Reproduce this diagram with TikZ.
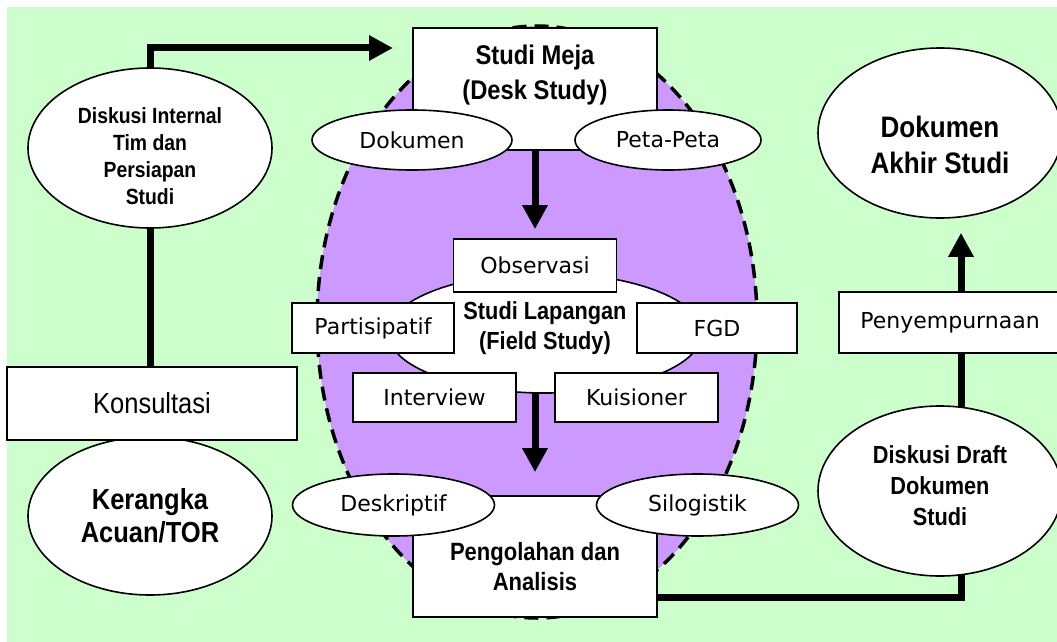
\documentclass[tikz,border=0pt]{standalone}
\usepackage{fontspec}
\setmainfont{DejaVu Sans}
\newfontfamily\narrowfont[FakeStretch=0.88]{Liberation Sans}
\usetikzlibrary{shapes.geometric,arrows.meta}
\definecolor{bggreen}{HTML}{CCFFCC}
\definecolor{lilac}{HTML}{CC99FF}
\pgfdeclarelayer{bg}
\pgfdeclarelayer{lines}
\pgfsetlayers{bg,lines,main}
\tikzset{
  box/.style={draw=black, line width=1.6pt, fill=white, rectangle, inner sep=0pt},
  oval/.style={draw=black, line width=1.6pt, fill=white, ellipse, inner sep=0pt},
  wide/.style={font=\fontsize{22}{26}\selectfont},
  nreg/.style={font=\narrowfont\fontsize{29}{33}\selectfont},
  conn/.style={line width=7pt, line join=miter},
  arr/.style={conn, -{Triangle[length=24pt,width=24pt]}},
  zone/.style={ellipse, inner sep=0pt, fill=lilac, draw=black, line width=3.5pt, dash pattern=on 14pt off 8pt}
}
\newcommand{\nbf}[2]{\narrowfont\bfseries\fontsize{#1}{#2}\selectfont}
\begin{document}
\begin{tikzpicture}[x=1pt,y=-1pt]
\useasboundingbox (0,0) rectangle (1057,642);
\clip (0,0) rectangle (1057,642);
\begin{pgfonlayer}{bg}
  \fill[bggreen] (7,7) rectangle (1057,642);
  \node[zone, minimum width=440pt, minimum height=592pt] (zone) at (537,322) {};
\end{pgfonlayer}

% left column
\node[oval, minimum width=244pt, minimum height=160pt,
  label={[font=\nbf{22}{27}, align=center, yshift=-8pt]center:Diskusi Internal\\Tim dan\\Persiapan\\Studi}] (dint) at (150,148) {};
\node[oval, minimum width=244pt, minimum height=158pt,
  label={[font=\nbf{29}{33}, align=center]center:Kerangka\\Acuan/TOR}] (ker) at (150,516) {};
\node[box, nreg, minimum width=290pt, minimum height=73pt] (kons) at (152,403.5) {Konsultasi};

% central column
\node[box, minimum width=244pt, minimum height=122pt,
  label={[font=\nbf{27}{35}, align=center, yshift=14pt]center:Studi Meja\\(Desk Study)}] (meja) at (535,89) {};
\node[oval, wide, minimum width=200pt, minimum height=60pt] (dok) at (412,140) {Dokumen};
\node[oval, wide, minimum width=186pt, minimum height=60pt] (peta) at (668,140) {Peta-Peta};

\node[oval, minimum width=314pt, minimum height=120pt,
  label={[font=\nbf{24.7}{30}, align=center, yshift=5pt]center:Studi Lapangan\\(Field Study)}] (lap) at (545,333) {};
\node[box, wide, minimum width=163pt, minimum height=53pt] (obs) at (535,265.5) {Observasi};
\node[box, wide, minimum width=162pt, minimum height=50pt] (par) at (373,328) {Partisipatif};
\node[box, wide, minimum width=160pt, minimum height=50pt] (fgd) at (717,328) {FGD};
\node[box, wide, minimum width=163pt, minimum height=49pt] (int) at (434.5,397.5) {Interview};
\node[box, wide, minimum width=163pt, minimum height=49pt] (kui) at (636.5,397.5) {Kuisioner};

\node[box, minimum width=244pt, minimum height=121pt,
  label={[font=\nbf{25}{30}, align=center, yshift=-10.5pt]center:Pengolahan dan\\Analisis}] (peng) at (535,556.5) {};
\node[oval, wide, minimum width=202pt, minimum height=62pt] (desk) at (393.5,505) {Deskriptif};
\node[oval, wide, minimum width=202pt, minimum height=62pt] (silo) at (697.5,505) {Silogistik};

% right column
\node[oval, minimum width=244pt, minimum height=170pt,
  label={[font=\nbf{29.6}{36}, align=center, yshift=-12pt]center:Dokumen\\Akhir Studi}] (dak) at (940,133) {};
\node[box, wide, minimum width=222pt, minimum height=61pt] (pen) at (950,322.5) {Penyempurnaan};
\node[oval, minimum width=244pt, minimum height=170pt,
  label={[font=\nbf{24.7}{31}, align=center, yshift=5pt]center:Diskusi Draft\\Dokumen\\Studi}] (draft) at (940,491) {};

\coordinate (t1) at (393,48);
\coordinate (c2) at (961,597);
\begin{pgfonlayer}{lines}
  \draw[arr] (dint.center) |- (t1);
  \draw[conn] (dint.center) -- (kons.center -| dint.center);
  \draw[arr, shorten >=9pt] (meja.center) -- (obs.north);
  \draw[arr, shorten >=23pt] (lap.center -| meja.center) -- (peng.north);
  \draw[conn] (peng.center |- c2) -- (c2) -- (draft.center -| c2);
  \draw[conn] (draft.center -| c2) -- (pen.center -| c2);
  \draw[arr, shorten >=14pt] (pen.center -| c2) -- (dak.south -| c2);
\end{pgfonlayer}
\end{tikzpicture}
\end{document}
